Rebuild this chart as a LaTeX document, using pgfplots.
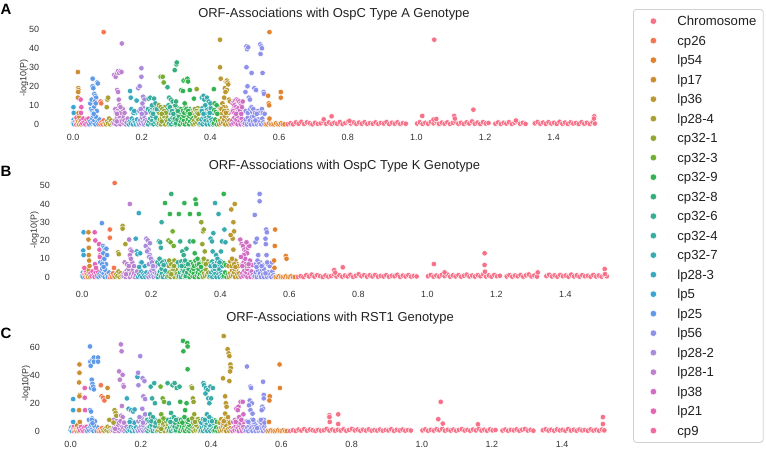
\documentclass[border=0pt]{standalone}
\usepackage{fontspec}
\setmainfont{Liberation Sans}
\usepackage{pgfplots}
\usepackage{pgfplotstable}
\pgfplotsset{compat=1.18}
\definecolor{c0}{HTML}{F77189}
\definecolor{c1}{HTML}{F37650}
\definecolor{c2}{HTML}{E1832F}
\definecolor{c3}{HTML}{CD8E32}
\definecolor{c4}{HTML}{BA9931}
\definecolor{c5}{HTML}{A9A031}
\definecolor{c6}{HTML}{94A631}
\definecolor{c7}{HTML}{71AE31}
\definecolor{c8}{HTML}{32B250}
\definecolor{c9}{HTML}{34AF7A}
\definecolor{c10}{HTML}{35AE91}
\definecolor{c11}{HTML}{36ADA0}
\definecolor{c12}{HTML}{37ABAE}
\definecolor{c13}{HTML}{38A9BE}
\definecolor{c14}{HTML}{3BA4D6}
\definecolor{c15}{HTML}{609AE8}
\definecolor{c16}{HTML}{8E91EA}
\definecolor{c17}{HTML}{A98BDD}
\definecolor{c18}{HTML}{BC82D0}
\definecolor{c19}{HTML}{D16EC3}
\definecolor{c20}{HTML}{E664B4}
\definecolor{c21}{HTML}{F5679F}

\pgfplotstableread{
x y c
0.000 0.5 k14
0.002 2.5 k14
0.004 1 k14
0.006 0 k14
0.008 3 k14
0.003 0 k14
0.007 1.5 k21
0.009 0 k21
0.011 2 k21
0.010 3.5 k21
0.013 0.5 k3
0.015 1.5 k3
0.017 0 k3
0.019 2.5 k3
0.021 1 k3
0.023 0 k3
0.018 4 k3
0.024 2 k20
0.027 0.5 k20
0.030 3 k20
0.033 1 k20
0.036 0 k20
0.039 2.5 k20
0.042 0.5 k20
0.045 3 k20
0.047 0 k15
0.050 1.5 k15
0.053 0.5 k15
0.056 3 k15
0.059 1 k15
0.062 2 k15
0.065 0 k15
0.068 3.5 k15
0.071 1 k15
0.074 0 k15
0.077 2.5 k15
0.058 4.5 k15
0.066 4 k15
0.080 0 k1
0.083 1 k1
0.086 0 k1
0.089 2 k1
0.092 0.5 k1
0.096 0 k5
0.099 1.5 k5
0.102 0.5 k5
0.105 3 k5
0.108 0 k5
0.111 2 k5
0.114 0.5 k5
0.117 1 k5
0.120 0.5 k18
0.123 2 k18
0.126 0 k18
0.129 3.5 k18
0.132 1 k18
0.135 2.5 k18
0.138 0 k18
0.141 1.5 k18
0.144 4 k18
0.147 0.5 k18
0.150 2 k18
0.153 0 k18
0.156 1 k18
0.159 3 k18
0.134 4.5 k18
0.127 1.5 k18
0.162 0 k13
0.165 1.5 k13
0.168 0.5 k13
0.171 3 k13
0.174 0 k13
0.177 2 k13
0.180 1 k13
0.183 0 k13
0.186 2.5 k13
0.189 0.5 k13
0.192 0 k17
0.195 2 k17
0.198 0.5 k17
0.201 3.5 k17
0.204 1 k17
0.207 0 k17
0.210 2.5 k17
0.213 0.5 k17
0.216 1.5 k17
0.206 4.5 k17
0.219 0 k11
0.222 1.5 k11
0.225 3 k11
0.228 0.5 k11
0.231 2 k11
0.234 0 k11
0.237 4 k11
0.240 1 k11
0.243 2.5 k11
0.246 0 k11
0.249 1.5 k11
0.230 4.5 k11
0.241 3.5 k11
0.250 0.5 k6
0.253 2.5 k6
0.256 0 k6
0.259 3.5 k6
0.262 1 k6
0.265 2 k6
0.268 0 k6
0.271 4 k6
0.274 1.5 k6
0.277 0 k6
0.263 4.5 k6
0.258 1.5 k6
0.280 0.5 k10
0.283 2.5 k10
0.286 0 k10
0.289 3.5 k10
0.292 1 k10
0.295 2 k10
0.298 0 k10
0.301 4 k10
0.304 1.5 k10
0.307 0 k10
0.291 4.5 k10
0.296 3 k9
0.300 0.5 k9
0.304 2.5 k9
0.308 4.5 k9
0.311 0 k8
0.314 1.5 k8
0.317 3 k8
0.320 0.5 k8
0.323 2 k8
0.326 0 k8
0.329 4 k8
0.332 1 k8
0.335 2.5 k8
0.338 0 k8
0.341 1.5 k8
0.344 3.5 k8
0.347 0.5 k8
0.322 4.5 k8
0.337 4.5 k8
0.350 0 k6
0.353 2 k6
0.356 0.5 k6
0.359 3.5 k6
0.362 1 k6
0.365 2.5 k6
0.368 0 k6
0.357 4.5 k6
0.371 0.5 k12
0.374 2.5 k12
0.377 0 k12
0.380 3.5 k12
0.383 1 k12
0.386 2 k12
0.389 0 k12
0.392 4 k12
0.395 1.5 k12
0.398 0 k12
0.401 3 k12
0.404 1 k12
0.407 0 k12
0.384 4.5 k12
0.396 4.5 k12
0.410 0.5 k8
0.414 2.5 k8
0.418 0 k8
0.422 1.5 k8
0.425 0 k4
0.428 2 k4
0.431 0.5 k4
0.434 3.5 k4
0.437 1 k4
0.440 2.5 k4
0.443 0 k4
0.446 4 k4
0.449 1.5 k4
0.452 0 k4
0.455 2 k4
0.458 0.5 k4
0.441 4.5 k4
0.461 0 k19
0.464 2 k19
0.467 0.5 k19
0.470 3.5 k19
0.473 1 k19
0.476 2.5 k19
0.479 0 k19
0.482 4 k19
0.485 1.5 k19
0.488 0 k19
0.491 3 k19
0.494 1 k19
0.497 0 k19
0.478 4.5 k19
0.500 0.5 k16
0.503 2.5 k16
0.506 0 k16
0.509 3.5 k16
0.512 1 k16
0.515 2 k16
0.518 0 k16
0.521 4 k16
0.524 1.5 k16
0.527 0 k16
0.530 3 k16
0.533 1 k16
0.536 0 k16
0.539 2.5 k16
0.542 0.5 k16
0.545 1.5 k16
0.548 0 k16
0.551 3 k16
0.554 1 k16
0.557 0 k16
0.526 4.5 k16
0.531 2 k16
0.561 0 k2
0.566 0 k2
0.571 0.5 k2
0.576 0 k2
0.581 0 k2
0.586 0 k2
0.591 0.5 k2
0.596 0 k2
0.601 0 k2
0.606 0.5 k2
0.611 0 k2
0.616 0 k2
0.625 0 k0
0.633 0.5 k0
0.641 0 k0
0.649 1 k0
0.657 0.3 k0
0.665 1.3 k0
0.673 0.2 k0
0.681 1 k0
0.689 0.5 k0
0.697 0 k0
0.705 0.8 k0
0.713 0.2 k0
0.721 0.5 k0
0.729 1.5 k0
0.737 0.3 k0
0.745 1 k0
0.753 0.2 k0
0.761 0.8 k0
0.769 0.3 k0
0.777 1.2 k0
0.785 0.1 k0
0.793 0.7 k0
0.801 1.5 k0
0.809 0.4 k0
0.817 1 k0
0.825 0.2 k0
0.833 0.9 k0
0.841 0.3 k0
0.849 1.1 k0
0.857 0.2 k0
0.865 0.6 k0
0.873 0.3 k0
0.881 1 k0
0.889 0.2 k0
0.897 0.7 k0
0.905 0.4 k0
0.913 1.2 k0
0.921 0.1 k0
0.929 0.8 k0
0.937 0.3 k0
0.945 1 k0
0.953 0.2 k0
0.961 0.6 k0
0.969 0.3 k0
1.002 0.4 k0
1.010 1.1 k0
1.018 0.2 k0
1.026 0.8 k0
1.034 0.3 k0
1.042 1.2 k0
1.050 0.5 k0
1.058 1.4 k0
1.066 0.2 k0
1.074 0.9 k0
1.082 0.3 k0
1.090 1 k0
1.098 0.2 k0
1.106 0.7 k0
1.114 1.3 k0
1.122 0.3 k0
1.130 0.8 k0
1.138 0.2 k0
1.146 1 k0
1.154 0.4 k0
1.162 1.5 k0
1.170 0.3 k0
1.178 0.9 k0
1.186 0.2 k0
1.194 1.1 k0
1.202 0.4 k0
1.210 0.7 k0
1.230 0.3 k0
1.238 1 k0
1.246 0.2 k0
1.254 0.8 k0
1.262 0.4 k0
1.270 1.1 k0
1.278 0.2 k0
1.286 0.9 k0
1.294 1.4 k0
1.302 0.3 k0
1.310 0.8 k0
1.318 0.2 k0
1.345 0.5 k0
1.353 1.2 k0
1.361 0.3 k0
1.369 0.9 k0
1.377 0.2 k0
1.385 1.1 k0
1.393 0.4 k0
1.401 0.8 k0
1.409 0.2 k0
1.417 1.3 k0
1.425 0.3 k0
1.433 0.9 k0
1.441 0.2 k0
1.449 1 k0
1.457 0.4 k0
1.465 0.7 k0
1.473 0.2 k0
1.481 1.1 k0
1.489 0.3 k0
1.497 0.8 k0
1.505 0.2 k0
1.513 1 k0
1.520 0.4 k0
}\baseT

\pgfplotstableread{
x y c
0.052 8 k15
0.061 9 k15
0.069 7 k15
0.123 8 k18
0.130 7 k18
0.137 6 k18
0.145 8 k18
0.150 6 k18
0.170 8 k13
0.181 6 k13
0.193 7 k17
0.203 9 k17
0.208 6.5 k17
0.212 6 k17
0.218 8 k11
0.224 7 k11
0.229 9 k11
0.235 6.5 k11
0.239 8.5 k11
0.246 7 k11
0.251 6 k6
0.256 7.5 k6
0.261 6 k6
0.267 9 k6
0.272 7 k6
0.277 8 k10
0.283 6 k10
0.287 8.5 k10
0.293 7 k10
0.297 6 k9
0.303 8.5 k9
0.309 6.5 k8
0.314 8 k8
0.319 7 k8
0.324 6 k8
0.328 9 k8
0.333 6.5 k8
0.339 8 k8
0.345 7 k8
0.349 6 k6
0.354 8 k6
0.358 6.5 k6
0.363 8.5 k6
0.367 7 k6
0.372 6 k12
0.377 8.5 k12
0.381 7 k12
0.387 6 k12
0.391 8 k12
0.396 7 k12
0.401 8.5 k12
0.406 6 k12
0.411 7.5 k8
0.416 6.5 k8
0.424 6 k4
0.429 8.5 k4
0.433 6 k4
0.439 8 k4
0.444 9 k4
0.449 7 k4
0.453 6 k4
0.463 6.5 k19
0.468 8 k19
0.473 7 k19
0.477 6 k19
0.483 6 k19
0.487 8.5 k19
0.493 6.5 k19
0.503 7 k16
0.509 6 k16
0.516 8 k16
0.522 6.5 k16
0.538 7 k16
0.543 6 k16
0.550 8 k16
}\midT

\pgfplotstableread{
x y c
0.001 9 k14
0.002 6 k14
0.014 27.5 k3
0.015 19 k3
0.016 18 k3
0.015 17 k3
0.014 14 k3
0.016 6 k3
0.022 13 k20
0.024 9 k20
0.023 6 k20
0.050 11 k15
0.054 13 k15
0.057 24 k15
0.057 20 k15
0.059 19 k15
0.062 16 k15
0.065 15 k15
0.067 14 k15
0.070 22 k15
0.072 21.5 k15
0.063 12 k15
0.066 11 k15
0.055 7 k15
0.058 6 k15
0.060 5.5 k15
0.080 12 k1
0.082 11 k1
0.089 48.5 k1
0.100 13 k5
0.102 14 k5
0.098 9 k5
0.120 26 k18
0.124 25 k18
0.128 27 k18
0.131 28 k18
0.134 27 k18
0.138 28 k18
0.141 27.5 k18
0.142 42.5 k18
0.128 18 k18
0.131 17 k18
0.133 13 k18
0.135 10 k18
0.138 9 k18
0.125 6 k18
0.128 5.5 k18
0.166 17.5 k13
0.168 14 k13
0.176 6 k13
0.178 7 k13
0.185 12.5 k13
0.190 19 k17
0.194 20 k17
0.199 29.5 k17
0.199 25 k17
0.204 14.5 k17
0.208 13 k17
0.202 11 k17
0.197 8 k17
0.200 5.5 k17
0.220 13.5 k11
0.225 14 k11
0.230 10 k11
0.236 13.5 k11
0.240 11 k11
0.228 6 k11
0.233 5.5 k11
0.244 8 k11
0.255 25 k7
0.261 25 k7
0.264 22 k7
0.250 10 k6
0.255 9 k6
0.260 8 k6
0.265 7 k6
0.270 6 k6
0.258 5.5 k6
0.275 19.5 k10
0.280 14 k10
0.285 13 k10
0.290 12 k10
0.278 10 k10
0.282 9 k10
0.288 7 k10
0.292 5.5 k10
0.296 28.5 k9
0.301 31.5 k9
0.302 32.5 k9
0.298 10 k9
0.300 12 k9
0.305 7 k9
0.315 18 k8
0.320 17.5 k8
0.322 23 k8
0.330 23 k8
0.333 24 k8
0.335 22.5 k8
0.340 18 k8
0.325 11 k8
0.330 8 k8
0.335 7 k8
0.340 5.5 k8
0.352 13.5 k8
0.360 18.5 k6
0.355 8 k6
0.360 7 k6
0.362 6 k6
0.365 5.5 k6
0.375 14 k12
0.380 15 k12
0.382 13 k12
0.390 14 k12
0.395 12 k12
0.400 11 k12
0.385 10 k12
0.375 7 k12
0.380 5.5 k12
0.398 6 k12
0.410 18.5 k8
0.412 11 k8
0.418 10 k8
0.420 5.5 k8
0.428 44.5 k4
0.428 30 k4
0.430 24 k4
0.440 14 k4
0.442 19 k4
0.445 22.5 k4
0.448 23 k4
0.450 22 k4
0.452 21 k4
0.448 18 k4
0.444 17 k4
0.435 11 k4
0.438 9 k4
0.432 8 k4
0.440 7 k4
0.445 6 k4
0.454 13 k4
0.457 12 k4
0.465 11 k19
0.468 12 k19
0.472 12.5 k19
0.476 13 k19
0.480 12.5 k19
0.484 12 k19
0.488 11 k19
0.490 10 k19
0.470 10 k19
0.474 9 k19
0.478 8 k19
0.482 8.5 k19
0.486 7 k19
0.466 7 k19
0.470 6 k19
0.475 5.5 k19
0.490 5.5 k19
0.492 9 k19
0.494 12 k19
0.505 41 k16
0.507 39.5 k16
0.510 40.5 k16
0.505 30 k16
0.508 20 k16
0.520 27 k16
0.528 19 k16
0.533 18 k16
0.502 17 k16
0.512 14 k16
0.515 13 k16
0.520 9 k16
0.525 8 k16
0.530 6 k16
0.535 5.5 k16
0.545 42 k16
0.548 41 k16
0.550 40 k16
0.546 37 k16
0.552 27 k16
0.555 17 k16
0.556 16 k16
0.553 6 k16
0.558 5.5 k16
0.572 48.5 k2
0.568 15 k2
0.570 11 k2
0.571 10 k2
0.572 3 k2
0.605 17 k2
0.605 14 k2
1.052 44.5 k0
1.166 7.7 k0
1.017 4.4 k0
1.110 4.4 k0
1.112 3 k0
0.753 4.2 k0
0.730 2.6 k0
1.518 4.2 k0
1.517 3 k0
1.050 2.5 k0
1.058 2.8 k0
1.290 2 k0
0.805 1.8 k0
}\dataA

\pgfplotstableread{
x y c
0.004 24.5 k14
0.003 14.5 k14
0.004 12 k14
0.006 5 k21
0.018 24.5 k3
0.018 20.5 k3
0.019 16 k3
0.019 12 k3
0.020 9 k3
0.021 6 k3
0.036 24.5 k20
0.038 20 k20
0.037 7 k20
0.040 5 k20
0.049 18 k20
0.050 15 k20
0.052 12 k20
0.051 11 k20
0.057 29.5 k15
0.060 17 k15
0.063 16 k15
0.066 15 k15
0.061 13 k15
0.064 10 k15
0.058 7 k15
0.062 5.5 k15
0.070 15.5 k15
0.072 12 k15
0.080 26 k1
0.080 21.5 k1
0.094 51.5 k1
0.092 5 k1
0.104 13.5 k5
0.106 12.5 k5
0.117 28 k5
0.117 26.5 k5
0.125 18 k5
0.138 40 k18
0.136 20.5 k18
0.140 15 k18
0.143 14 k18
0.138 12 k18
0.141 10 k18
0.135 6 k18
0.155 21 k13
0.164 35 k13
0.158 14 k13
0.160 12.5 k13
0.168 13 k13
0.172 8 k13
0.165 5.5 k13
0.186 21 k17
0.190 20 k17
0.184 17 k17
0.192 15 k17
0.188 14 k17
0.196 12 k17
0.194 11 k17
0.199 10 k17
0.202 8 k17
0.205 6 k17
0.196 18.5 k17
0.222 19.5 k11
0.226 19 k11
0.228 16 k11
0.230 30 k11
0.224 10 k11
0.232 8 k11
0.236 6.5 k11
0.240 40.5 k8
0.254 34.5 k8
0.280 34.5 k8
0.296 40.5 k8
0.312 34.5 k8
0.328 42.5 k8
0.330 40 k8
0.338 34.5 k8
0.410 45.5 k8
0.258 45.5 k9
0.250 20 k7
0.256 19 k7
0.262 25 k7
0.265 17 k7
0.252 9 k6
0.258 7 k6
0.266 6 k6
0.284 19.5 k10
0.290 14 k10
0.294 12 k10
0.298 9 k10
0.302 15.5 k10
0.306 7 k10
0.288 6 k10
0.312 19.5 k10
0.322 19.5 k8
0.326 13 k8
0.334 10 k8
0.338 7 k8
0.344 5.5 k8
0.345 30 k6
0.350 25 k6
0.352 26 k6
0.348 18 k6
0.355 14 k6
0.352 10 k6
0.358 7 k6
0.372 21 k12
0.376 19.5 k12
0.380 24 k12
0.385 40.5 k12
0.395 34.5 k12
0.378 14 k12
0.388 12 k12
0.392 10 k12
0.398 8 k12
0.384 6 k12
0.405 19.5 k12
0.412 26 k12
0.415 19 k12
0.402 14 k12
0.432 37 k4
0.442 40 k4
0.438 30 k4
0.440 25 k4
0.436 21 k4
0.438 15 k4
0.434 10 k4
0.440 7 k4
0.444 5.5 k4
0.430 23 k4
0.458 20.5 k19
0.462 18 k19
0.466 17 k19
0.470 15 k19
0.474 14 k19
0.478 13 k19
0.468 12 k19
0.472 10 k19
0.480 16 k19
0.484 17 k19
0.476 19 k19
0.460 11 k19
0.486 9 k19
0.482 7 k19
0.464 6 k19
0.500 34 k16
0.502 19 k16
0.506 21 k16
0.514 45.5 k16
0.514 41.5 k16
0.533 26 k16
0.535 24.5 k16
0.531 21 k16
0.532 18 k16
0.534 12 k16
0.536 8 k16
0.510 12 k16
0.508 9 k16
0.512 7 k16
0.505 5.5 k16
0.520 6 k16
0.559 26 k2
0.558 17 k2
0.556 9 k2
0.557 5 k2
0.590 11.5 k2
0.592 10 k2
1.019 7.1 k0
1.166 13 k0
1.166 6.6 k0
1.167 2.9 k0
0.755 5.3 k0
0.730 3.8 k0
0.733 2.4 k0
1.514 4.4 k0
1.515 1.6 k0
1.320 2.5 k0
1.050 2.5 k0
}\dataB

\pgfplotstableread{
x y c
0.007 23 k14
0.007 15 k14
0.007 6.5 k14
0.025 48 k3
0.025 42 k3
0.024 35 k3
0.026 26 k3
0.025 25 k3
0.024 15 k3
0.026 6.5 k3
0.040 31 k20
0.040 24 k20
0.041 15 k20
0.055 61 k15
0.056 50 k15
0.057 47 k15
0.062 51 k15
0.066 53 k15
0.066 50 k15
0.060 37 k15
0.062 34 k15
0.058 31 k15
0.064 32 k15
0.066 30 k15
0.055 15 k15
0.058 14 k15
0.060 8 k15
0.062 5.5 k15
0.078 53 k15
0.078 50 k15
0.086 33 k1
0.088 25 k1
0.092 24 k1
0.096 22 k1
0.105 31 k3
0.106 24.5 k3
0.110 8 k5
0.125 15 k5
0.128 13 k5
0.130 11 k5
0.122 6 k5
0.138 43 k18
0.140 37 k18
0.143 62.5 k18
0.145 57.5 k18
0.148 40.5 k18
0.150 33 k18
0.151 32 k18
0.146 18 k18
0.144 11 k18
0.148 10 k18
0.142 7 k18
0.152 6 k18
0.160 23.5 k13
0.165 16 k13
0.172 15 k13
0.178 14 k13
0.168 6.5 k13
0.182 15.5 k13
0.190 39 k13
0.192 42 k17
0.193 33 k17
0.198 54 k17
0.205 38 k17
0.210 36 k17
0.207 25 k17
0.212 23 k17
0.204 16 k17
0.212 12 k17
0.200 8 k17
0.196 10 k17
0.206 6 k17
0.228 32 k11
0.238 34.5 k11
0.232 23.5 k11
0.240 20 k11
0.226 12 k11
0.234 10 k11
0.230 7 k11
0.242 6 k11
0.256 32 k7
0.262 23.5 k7
0.266 21 k7
0.258 12 k7
0.264 9 k7
0.252 7 k7
0.276 34.5 k10
0.280 20 k10
0.290 33 k10
0.296 34.5 k10
0.302 31 k10
0.310 32 k10
0.286 13 k10
0.294 10 k10
0.300 8 k10
0.284 6.5 k10
0.312 21 k8
0.320 65 k8
0.321 57.5 k8
0.332 63.5 k8
0.333 61 k8
0.333 44.5 k8
0.326 15 k8
0.330 20 k8
0.324 10 k8
0.336 8 k8
0.318 6 k8
0.344 32 k6
0.346 31 k6
0.348 23.5 k6
0.350 21 k6
0.352 12 k6
0.346 9 k6
0.354 6.5 k6
0.378 34.5 k12
0.380 33 k12
0.385 31 k12
0.390 29.5 k12
0.384 27 k12
0.392 23.5 k12
0.395 20 k12
0.398 32 k12
0.405 31 k12
0.400 23.5 k12
0.388 12 k12
0.395 10 k12
0.382 8 k12
0.402 7 k12
0.436 68.5 k4
0.434 38 k4
0.447 59 k4
0.450 56 k4
0.452 54 k4
0.455 48 k4
0.456 45.5 k4
0.454 43 k4
0.452 36 k4
0.440 25 k4
0.442 20 k4
0.444 17.5 k4
0.440 12.5 k4
0.448 10 k4
0.436 7 k4
0.472 16 k19
0.478 17.5 k19
0.484 21 k19
0.490 21 k19
0.476 15 k19
0.480 10 k19
0.486 8 k19
0.470 6.5 k19
0.492 12 k19
0.502 46.5 k16
0.512 32 k16
0.514 31 k16
0.510 22 k16
0.516 20 k16
0.508 18.5 k16
0.512 15 k16
0.518 12.5 k16
0.520 8 k16
0.506 6.5 k16
0.548 35.5 k16
0.550 26 k16
0.550 23.5 k16
0.546 17.5 k16
0.548 16 k16
0.544 15 k16
0.542 8 k16
0.552 6 k16
0.567 25 k2
0.566 22 k2
0.565 6.5 k2
0.595 48 k2
0.596 31 k2
0.737 11.3 k0
0.737 10 k0
0.738 6.5 k0
0.762 12 k0
0.762 5 k0
1.054 21 k0
1.047 8.5 k0
1.060 5.3 k0
1.516 10 k0
1.516 5 k0
1.160 4.8 k0
}\dataC

\pgfplotsset{
  /pgf/number format/assume math mode=true,
  orf/.style={scatter, only marks, mark=*, mark size=2.75bp, forget plot,
    scatter src=explicit symbolic,
    scatter/classes={
      k0={fill=c0,draw=white,line width=0.45bp},
      k1={fill=c1,draw=white,line width=0.45bp},
      k2={fill=c2,draw=white,line width=0.45bp},
      k3={fill=c3,draw=white,line width=0.45bp},
      k4={fill=c4,draw=white,line width=0.45bp},
      k5={fill=c5,draw=white,line width=0.45bp},
      k6={fill=c6,draw=white,line width=0.45bp},
      k7={fill=c7,draw=white,line width=0.45bp},
      k8={fill=c8,draw=white,line width=0.45bp},
      k9={fill=c9,draw=white,line width=0.45bp},
      k10={fill=c10,draw=white,line width=0.45bp},
      k11={fill=c11,draw=white,line width=0.45bp},
      k12={fill=c12,draw=white,line width=0.45bp},
      k13={fill=c13,draw=white,line width=0.45bp},
      k14={fill=c14,draw=white,line width=0.45bp},
      k15={fill=c15,draw=white,line width=0.45bp},
      k16={fill=c16,draw=white,line width=0.45bp},
      k17={fill=c17,draw=white,line width=0.45bp},
      k18={fill=c18,draw=white,line width=0.45bp},
      k19={fill=c19,draw=white,line width=0.45bp},
      k20={fill=c20,draw=white,line width=0.45bp},
      k21={fill=c21,draw=white,line width=0.45bp}}},
  panel/.style={scale only axis, anchor=south west,
    xmin=-0.076, xmax=1.596,
    axis line style={draw=none}, major tick length=0pt, tick style={draw=none},
    xtick={0,0.2,0.4,0.6,0.8,1.0,1.2,1.4},
    xticklabel style={anchor=center, /pgf/number format/fixed, /pgf/number format/fixed zerofill, /pgf/number format/precision=1},
    yticklabel style={anchor=east, inner sep=0pt},
    ticklabel style={font=\fontsize{9}{10}\selectfont, text=black!80},
    title style={font=\fontsize{13}{15}\selectfont, text=black!87, at={(axis description cs:0.5,1)}, anchor=base},
    ylabel={-log10(P)},
    every axis y label/.style={rotate=90, anchor=center, font=\fontsize{9}{10}\selectfont, text=black!80},
  },
}

\begin{document}
\begin{tikzpicture}
\path[use as bounding box] (0bp,0bp) rectangle (766bp,449bp);

\begin{axis}[panel, at={(47bp,320.1bp)}, width=574bp, height=101.4bp,
  ymin=-2.425, ymax=50.925, ytick={0,10,20,30,40,50},
  title={ORF-Associations with OspC Type A Genotype}, title style={yshift=4.5bp},
  ylabel style={at={(axis description cs:-0.0401,0.5)}},
  yticklabel style={xshift=-7.7bp}, xticklabel style={yshift=-8.6bp},
  legend style={at={(axis description cs:1.0209,1.1824)}, anchor=north west,
    draw=black!18, line width=0.8bp, rounded corners=3bp, fill=white,
    inner xsep=7bp, inner ysep=2bp, row sep=0pt, column sep=16bp,
    font=\fontsize{13.2}{15}\selectfont, cells={anchor=west},
    nodes={inner sep=0pt, text height=14.48bp, text depth=5.02bp, text=black!87}},
  legend image code/.code={\path[draw=none, fill=none] (0bp,-9.75bp) rectangle (21bp,9.75bp);
    \draw[#1, mark=*, mark size=3.3bp, draw=white, line width=0.5bp] plot coordinates {(13bp,0bp)};},
]
\addlegendimage{fill=c0}\addlegendentry{Chromosome}
\addlegendimage{fill=c1}\addlegendentry{cp26}
\addlegendimage{fill=c2}\addlegendentry{lp54}
\addlegendimage{fill=c3}\addlegendentry{lp17}
\addlegendimage{fill=c4}\addlegendentry{lp36}
\addlegendimage{fill=c5}\addlegendentry{lp28-4}
\addlegendimage{fill=c6}\addlegendentry{cp32-1}
\addlegendimage{fill=c7}\addlegendentry{cp32-3}
\addlegendimage{fill=c8}\addlegendentry{cp32-9}
\addlegendimage{fill=c9}\addlegendentry{cp32-8}
\addlegendimage{fill=c10}\addlegendentry{cp32-6}
\addlegendimage{fill=c11}\addlegendentry{cp32-4}
\addlegendimage{fill=c12}\addlegendentry{cp32-7}
\addlegendimage{fill=c13}\addlegendentry{lp28-3}
\addlegendimage{fill=c14}\addlegendentry{lp5}
\addlegendimage{fill=c15}\addlegendentry{lp25}
\addlegendimage{fill=c16}\addlegendentry{lp56}
\addlegendimage{fill=c17}\addlegendentry{lp28-2}
\addlegendimage{fill=c18}\addlegendentry{lp28-1}
\addlegendimage{fill=c19}\addlegendentry{lp38}
\addlegendimage{fill=c20}\addlegendentry{lp21}
\addlegendimage{fill=c21}\addlegendentry{cp9}
\addplot[orf] table[x=x, y=y, meta=c] {\baseT};
\addplot[orf] table[x=x, y=y, meta=c] {\midT};
\addplot[orf] table[x=x, y=y, meta=c] {\dataA};
\end{axis}

\begin{axis}[panel, at={(56bp,167.3bp)}, width=577bp, height=103.4bp,
  ymin=-2.575, ymax=54.075, ytick={0,10,20,30,40,50},
  title={ORF-Associations with OspC Type K Genotype}, title style={yshift=3bp},
  ylabel style={at={(axis description cs:-0.0373,0.5)}},
  yticklabel style={xshift=-6bp}, xticklabel style={yshift=-12.3bp},
]
\addplot[orf] table[x=x, y=y, meta=c] {\baseT};
\addplot[orf] table[x=x, y=y, meta=c] {\midT};
\addplot[orf] table[x=x, y=y, meta=c] {\dataB};
\end{axis}

\begin{axis}[panel, at={(44bp,13.3bp)}, width=587bp, height=104.4bp,
  ymin=-3.43, ymax=71.93, ytick={0,20,40,60},
  title={ORF-Associations with RST1 Genotype}, title style={yshift=4.3bp, xshift=2.5bp},
  ylabel style={at={(axis description cs:-0.0307,0.5)}},
  yticklabel style={xshift=-4bp}, xticklabel style={yshift=-9bp},
]
\addplot[orf] table[x=x, y=y, meta=c] {\baseT};
\addplot[orf] table[x=x, y=y, meta=c] {\midT};
\addplot[orf] table[x=x, y=y, meta=c] {\dataC};
\end{axis}

\node[anchor=west, inner sep=0pt, font=\bfseries\fontsize{15}{18}\selectfont, text=black] at (0.5bp,439.5bp) {A};
\node[anchor=west, inner sep=0pt, font=\bfseries\fontsize{15}{18}\selectfont, text=black] at (0.5bp,278bp) {B};
\node[anchor=west, inner sep=0pt, font=\bfseries\fontsize{15}{18}\selectfont, text=black] at (0.5bp,115.5bp) {C};
\end{tikzpicture}
\end{document}
